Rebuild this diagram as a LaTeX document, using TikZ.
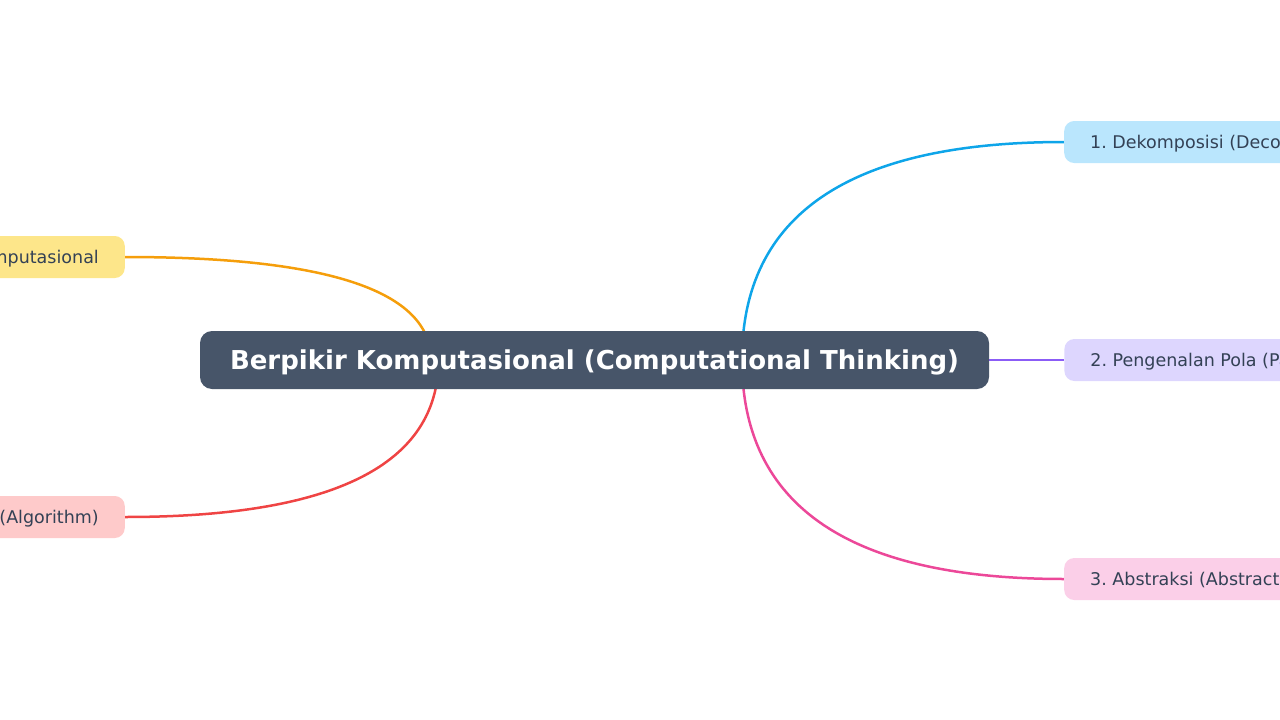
\documentclass[tikz,border=0pt]{standalone}
\usepackage{fontspec}
\setmainfont{DejaVu Sans}
\usepackage{xcolor}
\usetikzlibrary{positioning, backgrounds}
\frenchspacing
\definecolor{hubfill}{HTML}{475569}
\definecolor{inktext}{HTML}{334155}
\definecolor{skyfill}{HTML}{BAE6FD}
\definecolor{skyline}{HTML}{0EA5E9}
\definecolor{violetfill}{HTML}{DDD6FE}
\definecolor{violetline}{HTML}{8B5CF6}
\definecolor{pinkfill}{HTML}{FBCFE8}
\definecolor{pinkline}{HTML}{EC4899}
\definecolor{amberfill}{HTML}{FDE68A}
\definecolor{amberline}{HTML}{F59E0B}
\definecolor{redfill}{HTML}{FECACA}
\definecolor{redline}{HTML}{EF4444}
\tikzset{
  hub/.style={rounded corners=12pt, fill=hubfill, text=white, font=\fontsize{26}{30}\selectfont\bfseries, minimum width=789pt, minimum height=58pt, inner sep=0pt, text height=21pt, text depth=3pt},
  branch/.style={rounded corners=10pt, text=inktext, font=\fontsize{17.5}{21}\selectfont, minimum height=42pt, inner xsep=26pt, inner ysep=0pt, text height=15pt, text depth=2pt},
  link/.style={line width=2.5pt}
}

\begin{document}
\begin{tikzpicture}[x=1pt, y=-1pt, node distance=75pt]
    \useasboundingbox (0,0) rectangle (1280,720);
    \node[hub] (hub) at (594.5,360) {Berpikir Komputasional (Computational Thinking)};

    \node[branch, fill=skyfill, anchor=west] (dekom) at (1064,142) {1. Dekomposisi (Decomposition)};
    \node[branch, fill=violetfill, right=of hub] (pola) {2. Pengenalan Pola (Pattern Recognition)};
    \node[branch, fill=pinkfill, anchor=west] (abstr) at (1064,579) {3. Abstraksi (Abstraction)};
    \node[branch, fill=redfill, anchor=east] (algo) at (125,517) {4. Algoritma (Algorithm)};
    \node[branch, fill=amberfill, anchor=east] (manfaat) at (125,257) {5. Manfaat Berpikir Komputasional};

    \begin{scope}[on background layer]
    \draw[link, skyline] ([xshift=147.5pt]hub.center) .. controls +(0,-145.3) and +(-214.7,0) .. (dekom.west);
    \draw[link, violetline] ([xshift=177.5pt]hub.center) -- (pola.west);
    \draw[link, pinkline] ([xshift=147.5pt]hub.center) .. controls +(0,146) and +(-214.7,0) .. (abstr.west);
    \draw[link, redline] ([xshift=-156pt]hub.center) .. controls +(0,104.7) and +(209,0) .. (algo.east);
    \draw[link, amberline] ([xshift=-163.5pt]hub.center) .. controls +(0,-68.7) and +(204,0) .. (manfaat.east);
    \end{scope}
\end{tikzpicture}
\end{document}
